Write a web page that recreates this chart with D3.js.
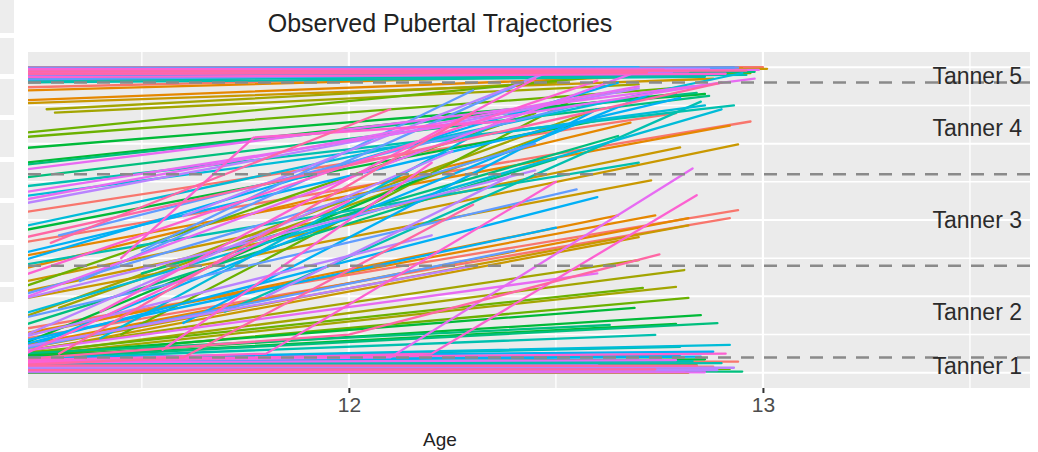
<!DOCTYPE html>
<html>
<head>
<meta charset="utf-8">
<script src="https://cdn.jsdelivr.net/npm/d3@7"></script>
<style>
  body { margin: 0; background: #fff; }
  text { font-family: "Liberation Sans", Arial, Helvetica, sans-serif; }
</style>
</head>
<body>
<svg id="chart" width="1038" height="452"></svg>
<script>
// each row = one child: age, score, age, score (, age, score)
// score is on the latent 0-8 scale used for the y axis
var topFlat = [
  [11.2, 8.0, 13.0, 8.0],
  [11.2, 7.95, 12.99, 7.98],
  [11.2, 7.9, 12.95, 7.97],
  [11.2, 7.85, 12.9, 7.95],
  [11.2, 7.82, 13.01, 7.96],
  [11.2, 7.78, 12.88, 7.9],
  [11.2, 7.75, 12.85, 7.9],
  [11.2, 7.72, 12.97, 7.85],
  [11.2, 7.98, 12.8, 7.97],
  [11.2, 7.92, 12.92, 7.92],
  [11.2, 7.88, 12.75, 7.93],
  [11.2, 7.8, 12.98, 7.88],
  [11.2, 7.7, 12.9, 7.87],
  [11.2, 7.66, 12.96, 7.8],
  [11.2, 7.6, 12.86, 7.75],
  [11.2, 7.97, 12.7, 8.0],
  [11.2, 7.9, 12.6, 7.99],
  [11.2, 7.84, 12.93, 7.99],
  [11.2, 7.76, 12.83, 7.92],
  [11.2, 7.68, 12.78, 7.85],
  [11.2, 7.99, 12.94, 7.99],
  [11.2, 7.93, 12.87, 7.96],
  [11.2, 7.87, 12.99, 7.93],
  [11.2, 7.81, 12.82, 7.89],
  [11.2, 7.74, 12.91, 7.83],
  [11.2, 7.96, 12.76, 7.94],
  [11.2, 7.89, 12.96, 7.91],
  [11.2, 7.83, 12.72, 7.86]
];

var upperRise = [
  [11.2, 7.6, 12.9, 7.95],
  [11.2, 7.47, 12.85, 7.9],
  [11.2, 7.39, 12.75, 7.85],
  [11.2, 7.13, 12.8, 7.8],
  [11.2, 7.05, 12.88, 7.7],
  [11.29, 6.81, 12.7, 7.55],
  [11.27, 6.9, 12.5, 7.6],
  [11.2, 6.27, 12.6, 7.75],
  [11.2, 6.16, 12.84, 7.5],
  [11.2, 5.87, 12.86, 7.3],
  [11.2, 5.48, 12.79, 7.3],
  [11.2, 5.43, 12.84, 7.33],
  [11.2, 5.09, 12.87, 7.25],
  [11.2, 4.86, 12.93, 7.0],
  [11.2, 4.6, 12.86, 7.0],
  [11.2, 3.8, 12.95, 7.85],
  [11.2, 2.9, 12.65, 7.6],
  [11.35, 2.4, 12.4, 7.5],
  [11.5, 3.2, 12.3, 7.4],
  [11.2, 4.4, 12.7, 7.45],
  [11.6, 4.1, 12.5, 7.95],
  [11.2, 1.9, 12.7, 7.9],
  [11.2, 5.3, 12.98, 7.7],
  [11.4, 1.6, 12.45, 7.7],
  [11.2, 2.5, 12.6, 7.65],
  [11.2, 3.5, 12.9, 7.6]
];

var midRise = [
  [11.2, 4.18, 12.79, 6.8],
  [11.2, 3.39, 12.97, 6.58],
  [11.2, 3.03, 12.92, 6.47],
  [11.2, 2.69, 12.68, 6.55],
  [11.2, 2.35, 12.8, 5.9],
  [11.2, 2.09, 12.94, 5.98],
  [11.2, 1.91, 12.73, 5.04],
  [11.2, 1.4, 12.6, 6.9],
  [11.3, 1.7, 12.5, 6.3],
  [11.2, 2.2, 12.45, 6.8],
  [11.45, 1.0, 12.55, 7.2],
  [11.2, 0.7, 12.2, 5.2],
  [11.2, 3.7, 12.6, 6.6],
  [11.5, 2.6, 12.65, 6.2],
  [11.2, 1.2, 12.5, 5.6],
  [11.2, 2.8, 12.7, 5.5],
  [11.7, 1.6, 12.85, 7.1],
  [11.2, 1.5, 12.9, 6.9],
  [11.4, 0.9, 12.35, 6.5],
  [11.2, 3.1, 12.8, 7.2],
  [11.6, 1.3, 12.6, 6.9],
  [11.2, 0.55, 12.75, 7.4],
  [11.2, 2.0, 12.45, 6.0],
  [11.3, 3.6, 12.55, 7.0],
  [11.2, 0.9, 12.25, 5.8],
  [11.8, 2.0, 12.4, 5.2],
  [11.2, 4.5, 12.7, 7.5],
  [11.2, 4.7, 12.9, 7.6],
  [11.55, 0.6, 12.2, 5.5],
  [11.2, 0.4, 12.0, 4.5],
  [11.3, 0.5, 12.3, 6.8],
  [11.28, 3.4, 12.1, 6.9]
];

var lowRise = [
  [11.2, 1.12, 12.94, 4.26],
  [11.2, 0.86, 12.92, 4.05],
  [11.2, 1.0, 12.74, 4.12],
  [11.2, 0.95, 12.65, 4.12],
  [11.2, 0.68, 12.82, 4.05],
  [11.2, 0.6, 12.82, 3.86],
  [11.2, 0.5, 12.7, 3.55],
  [11.2, 0.55, 12.7, 2.95],
  [11.2, 0.45, 12.81, 2.69],
  [11.2, 0.42, 12.79, 2.25],
  [11.2, 0.5, 12.71, 2.22],
  [11.2, 0.4, 12.82, 1.96],
  [11.2, 0.45, 12.69, 1.7],
  [11.2, 0.4, 12.85, 1.51],
  [11.2, 0.38, 12.79, 1.28],
  [11.2, 0.36, 12.89, 1.3],
  [11.2, 0.5, 12.63, 1.25],
  [11.2, 0.35, 12.74, 0.99],
  [11.2, 0.3, 12.8, 0.68],
  [11.2, 0.33, 12.92, 0.73],
  [11.2, 0.3, 12.8, 0.47],
  [11.2, 0.28, 12.85, 0.42],
  [11.2, 0.7, 12.6, 4.6],
  [11.2, 0.8, 12.5, 3.8],
  [11.2, 1.4, 12.55, 4.8],
  [11.2, 0.6, 12.4, 3.2],
  [11.2, 0.65, 12.3, 2.8],
  [11.2, 1.9, 12.45, 5.3],
  [11.2, 0.9, 12.2, 3.6],
  [11.2, 0.55, 12.6, 2.6],
  [11.2, 0.3, 12.1, 0.4, 12.83, 5.35],
  [11.2, 0.25, 12.2, 0.5, 12.84, 4.65],
  [11.2, 0.3, 11.8, 0.5, 12.5, 5.0],
  [11.45, 3.0, 11.77, 6.16, 12.4, 6.6],
  [11.2, 0.2, 11.6, 0.4, 12.3, 4.4],
  [11.2, 0.35, 12.0, 1.0, 12.75, 3.1]
];

var bottomFlat = [
  [11.2, 0.29, 12.94, 0.29],
  [11.2, 0.16, 12.88, 0.16],
  [11.2, 0.08, 12.87, 0.08],
  [11.2, 0.0, 12.82, 0.0],
  [11.2, 0.05, 12.9, 0.12],
  [11.2, 0.12, 12.84, 0.2],
  [11.2, 0.2, 12.8, 0.22],
  [11.2, 0.02, 12.78, 0.05],
  [11.2, 0.1, 12.92, 0.1],
  [11.2, 0.25, 12.86, 0.35],
  [11.2, 0.14, 12.7, 0.14],
  [11.2, 0.06, 12.95, 0.03],
  [11.2, 0.22, 12.83, 0.3],
  [11.2, 0.18, 12.9, 0.25],
  [11.2, 0.01, 12.85, 0.02],
  [11.2, 0.32, 12.76, 0.45],
  [11.2, 0.4, 12.88, 0.55],
  [11.2, 0.1, 12.6, 0.2],
  [11.2, 0.04, 12.81, 0.04],
  [11.2, 0.09, 12.89, 0.07],
  [11.2, 0.15, 12.93, 0.13],
  [11.2, 0.03, 12.86, 0.01],
  [11.2, 0.27, 12.79, 0.33],
  [11.2, 0.35, 12.91, 0.5],
  [11.2, 0.07, 12.74, 0.09],
  [11.2, 0.19, 12.84, 0.18]
];

var xTicks = [12, 13];
var xMinor = [11.5, 12.5, 13.5];
var yMajor = [0, 2, 4, 6, 8];
var yMinor = [1, 3, 5, 7];
var tannerCuts = [0.4, 2.8, 5.2, 7.6];
var tannerLabels = ["Tanner 1", "Tanner 2", "Tanner 3", "Tanner 4", "Tanner 5"];
var tannerPos = [0.17, 1.6, 4.0, 6.4, 7.78];

// ggplot default hue palette
var hues = ["#F8766D", "#E58700", "#C99800", "#A3A500", "#6BB100", "#00BA38", "#00BF7D", "#00C0AF",
            "#00BCD8", "#00B0F6", "#619CFF", "#B983FF", "#E76BF3", "#FD61D1", "#FF67A4"];

var svg = d3.select("#chart");
var panel = { left: 28, right: 1030, top: 52, bottom: 388 };

var x = d3.scaleLinear().domain([11.225, 13.645]).range([panel.left, panel.right]);
var y = d3.scaleLinear().domain([-0.4, 8.4]).range([panel.bottom, panel.top]);

// the strip of grey boxes at the very left of the screenshot
var strip = [[0, 33], [38, 74], [79, 115], [120, 157], [162, 198], [203, 240], [245, 282], [287, 302]];
svg.selectAll("rect.strip").data(strip).enter().append("rect")
  .attr("class", "strip")
  .attr("x", 0).attr("width", 14)
  .attr("y", function(d) { return d[0]; })
  .attr("height", function(d) { return d[1] - d[0]; })
  .attr("fill", "#ededed");

svg.append("rect")
  .attr("x", panel.left).attr("y", panel.top)
  .attr("width", panel.right - panel.left).attr("height", panel.bottom - panel.top)
  .attr("fill", "#EBEBEB");

svg.append("clipPath").attr("id", "clip").append("rect")
  .attr("x", panel.left).attr("y", panel.top)
  .attr("width", panel.right - panel.left).attr("height", panel.bottom - panel.top);

var grid = svg.append("g").attr("stroke", "#fff");
grid.selectAll("line.ymin").data(yMinor).enter().append("line")
  .attr("x1", panel.left).attr("x2", panel.right)
  .attr("y1", function(d) { return y(d); }).attr("y2", function(d) { return y(d); })
  .attr("stroke-width", 1.5);
grid.selectAll("line.ymaj").data(yMajor).enter().append("line")
  .attr("x1", panel.left).attr("x2", panel.right)
  .attr("y1", function(d) { return y(d); }).attr("y2", function(d) { return y(d); })
  .attr("stroke-width", 2);
grid.selectAll("line.xmin").data(xMinor).enter().append("line")
  .attr("y1", panel.top).attr("y2", panel.bottom)
  .attr("x1", function(d) { return x(d); }).attr("x2", function(d) { return x(d); })
  .attr("stroke-width", 1.3);
grid.selectAll("line.xmaj").data(xTicks).enter().append("line")
  .attr("y1", panel.top).attr("y2", panel.bottom)
  .attr("x1", function(d) { return x(d); }).attr("x2", function(d) { return x(d); })
  .attr("stroke-width", 2.2);

// spread each group evenly over the id range, so colours mix like subject ids do
var groups = [topFlat, upperRise, midRise, lowRise, bottomFlat];
var subjects = [];
groups.forEach(function(g) {
  g.forEach(function(row, j) { subjects.push({ row: row, key: (j + 0.5) / g.length }); });
});
subjects.sort(function(a, b) { return a.key - b.key; });
var n = subjects.length;

var line = d3.line()
  .x(function(p) { return x(p[0]); })
  .y(function(p) { return y(p[1]); });

svg.append("g").attr("clip-path", "url(#clip)")
  .selectAll("path").data(subjects).enter().append("path")
  .attr("d", function(s) {
    var row = s.row;
    var pts = d3.range(0, row.length, 2).map(function(k) { return [row[k], row[k + 1]]; });
    return line(pts);
  })
  .attr("fill", "none")
  .attr("stroke", function(d, i) { return hues[Math.floor(i * hues.length / n)]; })
  .attr("stroke-width", 2.3)
  .attr("stroke-linecap", "round");

// stage cut points
svg.selectAll("line.cut").data(tannerCuts).enter().append("line")
  .attr("class", "cut")
  .attr("x1", panel.left).attr("x2", panel.right)
  .attr("y1", function(d) { return y(d); }).attr("y2", function(d) { return y(d); })
  .attr("stroke", "#8a8a8a").attr("stroke-width", 2.6)
  .attr("stroke-dasharray", "13,10");

svg.selectAll("text.tanner").data(tannerLabels).enter().append("text")
  .attr("class", "tanner")
  .attr("x", 1022)
  .attr("y", function(d, i) { return y(tannerPos[i]); })
  .attr("dy", "0.35em")
  .attr("text-anchor", "end")
  .attr("font-size", 23)
  .attr("fill", "#2b2b2b")
  .text(function(d) { return d; });

// x axis
var xAxis = d3.axisBottom(x).tickValues(xTicks).tickSize(5).tickPadding(4).tickFormat(d3.format("d"));
var ax = svg.append("g").attr("transform", "translate(0," + panel.bottom + ")").call(xAxis);
ax.select(".domain").remove();
ax.selectAll(".tick line").attr("stroke", "#333").attr("stroke-width", 2);
ax.selectAll(".tick text").attr("fill", "#4d4d4d").attr("font-size", 21)
  .attr("font-family", "Liberation Sans, Arial, sans-serif");

svg.append("text")
  .attr("x", 440).attr("y", 446)
  .attr("text-anchor", "middle")
  .attr("font-size", 19)
  .attr("fill", "#222")
  .text("Age");

svg.append("text")
  .attr("x", 440).attr("y", 32)
  .attr("text-anchor", "middle")
  .attr("font-size", 25)
  .attr("fill", "#222")
  .text("Observed Pubertal Trajectories");
</script>
</body>
</html>
